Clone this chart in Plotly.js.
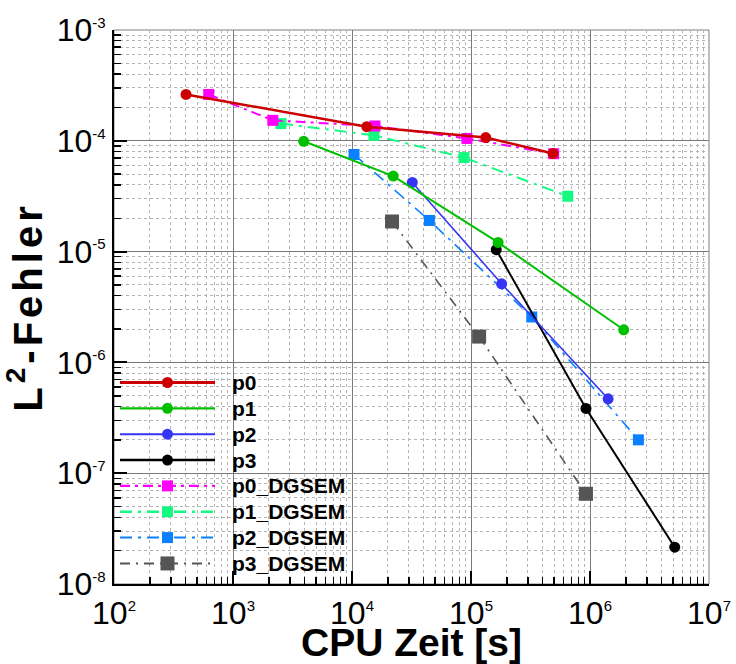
<!DOCTYPE html>
<html>
<head>
<meta charset="utf-8">
<script src="https://cdn.plot.ly/plotly-3.0.1.min.js"></script>
<style>
  html, body { margin: 0; padding: 0; background: #fff; }
  #chart { width: 736px; height: 664px; }
  /* slightly spaced lettering for the vertical axis title */
  #chart .ytitle { letter-spacing: 4px; }
</style>
</head>
<body>
<div id="chart"></div>
<script>
// CPU time [s] versus L2 error for the polynomial degrees p0..p3,
// standard scheme (circles, solid) and DGSEM (squares, dash-dot).
const seriesNames = ['p0', 'p1', 'p2', 'p3', 'p0_DGSEM', 'p1_DGSEM', 'p2_DGSEM', 'p3_DGSEM'];

const p0_time = [403, 13300, 133000, 489000];
const p0_err  = [2.62e-4, 1.34e-4, 1.07e-4, 7.67e-5];

const p1_time = [3930, 22200, 169000, 1.92e6];
const p1_err  = [9.9e-5, 4.8e-5, 1.21e-5, 1.97e-6];

const p2_time = [32100, 181000, 1.42e6];
const p2_err  = [4.21e-5, 5.12e-6, 4.69e-7];

const p3_time = [163000, 925000, 5.15e6];
const p3_err  = [1.04e-5, 3.84e-7, 2.15e-8];

const p0_dg_time = [625, 2160, 15600, 92500, 495000];
const p0_dg_err  = [2.62e-4, 1.53e-4, 1.36e-4, 1.05e-4, 7.65e-5];

const p1_dg_time = [2530, 15300, 87300, 650000];
const p1_dg_err  = [1.43e-4, 1.12e-4, 7.06e-5, 3.16e-5];

const p2_dg_time = [10400, 44700, 324000, 2.55e6];
const p2_dg_err  = [7.52e-5, 1.91e-5, 2.57e-6, 2.0e-7];

const p3_dg_time = [21700, 117000, 925000];
const p3_dg_err  = [1.87e-5, 1.71e-6, 6.52e-8];

const xTickVals = [1e2, 1e3, 1e4, 1e5, 1e6, 1e7];
const xTickExp  = ['2', '3', '4', '5', '6', '7'];
const yTickVals = [1e-3, 1e-4, 1e-5, 1e-6, 1e-7, 1e-8];
const yTickExp  = ['-3', '-4', '-5', '-6', '-7', '-8'];

const supLabel = e => '10<sup><span style="font-size:15px">' + e + '</span></sup>';

// styles per series
const styles = [
  { color: '#cc0000', width: 2.5, dash: 'solid', symbol: 'circle', size: 11 },
  { color: '#00c000', width: 2,   dash: 'solid', symbol: 'circle', size: 11 },
  { color: '#3535f5', width: 1.6, dash: 'solid', symbol: 'circle', size: 11 },
  { color: '#000000', width: 2,   dash: 'solid', symbol: 'circle', size: 11 },
  { color: '#ff00ff', width: 2,   dash: '10px,5px,3px,5px', symbol: 'square', size: 11 },
  { color: '#14fa80', width: 2,   dash: '12px,6px,3px,6px', symbol: 'square', size: 11 },
  { color: '#0a80ff', width: 1.6, dash: '12px,6px,3px,6px', symbol: 'square', size: 11 },
  { color: '#555555', width: 1.6, dash: '10px,6px,2px,6px', symbol: 'square', size: 14 }
];

const xs = [p0_time, p1_time, p2_time, p3_time, p0_dg_time, p1_dg_time, p2_dg_time, p3_dg_time];
const ys = [p0_err, p1_err, p2_err, p3_err, p0_dg_err, p1_dg_err, p2_dg_err, p3_dg_err];

// draw order: DGSEM under the standard curves where they overlap
const order = [7, 6, 5, 4, 3, 2, 1, 0];
const traces = order.map(i => ({
  type: 'scatter',
  mode: 'lines+markers',
  name: seriesNames[i],
  x: xs[i],
  y: ys[i],
  line: { color: styles[i].color, width: styles[i].width, dash: styles[i].dash },
  marker: { color: styles[i].color, symbol: styles[i].symbol, size: styles[i].size, line: { width: 0 } },
  showlegend: false,
  hoverinfo: 'x+y+name'
}));

// plot area in pixels
const M = { l: 114, r: 27, t: 30, b: 80 };
const PW = 736 - M.l - M.r, PH = 664 - M.t - M.b;
const px2paperX = p => (p - M.l) / PW;
const px2paperY = p => (M.t + PH - p) / PH;

// hand-built legend key with long line samples
const legLineX0 = 120, legLineX1 = 215, legMarkX = 167.5, legTextX = 230;
const legRow0 = 382.5, legRowStep = 25.85;
const shapes = [];
const annotations = [];
seriesNames.forEach((name, i) => {
  const s = styles[i];
  const yy = px2paperY(legRow0 + i * legRowStep);
  shapes.push({
    type: 'line', xref: 'paper', yref: 'paper',
    x0: px2paperX(legLineX0), x1: px2paperX(legLineX1), y0: yy, y1: yy,
    line: { color: s.color, width: s.width + 0.4, dash: s.dash }, layer: 'above'
  });
  const half = s.size / 2;
  shapes.push({
    type: s.symbol === 'circle' ? 'circle' : 'rect',
    xref: 'paper', yref: 'paper',
    xsizemode: 'pixel', ysizemode: 'pixel',
    xanchor: px2paperX(legMarkX), yanchor: yy,
    x0: -half, x1: half, y0: -half, y1: half,
    fillcolor: s.color, line: { width: 0 }, layer: 'above'
  });
  annotations.push({
    xref: 'paper', yref: 'paper',
    x: px2paperX(legTextX), y: yy, xanchor: 'left', yanchor: 'middle',
    text: '<b>' + name + '</b>', showarrow: false,
    font: { family: 'Liberation Sans, Arial, sans-serif', size: 21, color: '#000' }
  });
});

// thin grey frame on top and right
shapes.push({
  type: 'rect', xref: 'paper', yref: 'paper', x0: 0, x1: 1, y0: 0, y1: 1,
  line: { color: '#808080', width: 1 }, layer: 'below'
});

const tickFont = { family: 'Liberation Sans, Arial, sans-serif', size: 32, color: '#000' };
const minorCommon = {
  dtick: 'D1', ticks: 'inside', ticklen: 7, tickwidth: 1.5, tickcolor: '#000',
  showgrid: true, gridcolor: '#b4b4b4', griddash: 'dot', gridwidth: 1
};

const layout = {
  width: 736, height: 664,
  margin: M,
  paper_bgcolor: '#fff', plot_bgcolor: '#fff',
  showlegend: false,
  font: { family: 'Liberation Sans, Arial, sans-serif', color: '#000' },
  xaxis: {
    type: 'log', range: [2, 7],
    tickmode: 'array', tickvals: xTickVals, ticktext: xTickExp.map(supLabel),
    ticks: 'inside', ticklen: 13, tickwidth: 2, tickcolor: '#000',
    tickfont: tickFont,
    ticklabelstandoff: 0,
    showline: true, linecolor: '#000', linewidth: 2,
    showgrid: true, gridcolor: '#7a7a7a', gridwidth: 1,
    zeroline: false,
    minor: minorCommon,
    title: { text: '<b>CPU Zeit [s]</b>', font: { family: 'Liberation Sans, Arial, sans-serif', size: 39, color: '#000' }, standoff: 5 }
  },
  yaxis: {
    type: 'log', range: [-8, -3],
    tickmode: 'array', tickvals: yTickVals, ticktext: yTickExp.map(supLabel),
    ticks: 'inside', ticklen: 13, tickwidth: 2, tickcolor: '#000',
    tickfont: tickFont,
    ticklabelstandoff: 0,
    showline: true, linecolor: '#000', linewidth: 2,
    showgrid: true, gridcolor: '#7a7a7a', gridwidth: 1,
    zeroline: false,
    minor: minorCommon,
    title: { text: '<b>L<sup>2</sup>-Fehler</b>', font: { family: 'Liberation Sans, Arial, sans-serif', size: 40, color: '#000' }, standoff: 2 }
  },
  shapes: shapes,
  annotations: annotations
};

Plotly.newPlot('chart', traces, layout, { displayModeBar: false, staticPlot: true });
</script>
</body>
</html>
